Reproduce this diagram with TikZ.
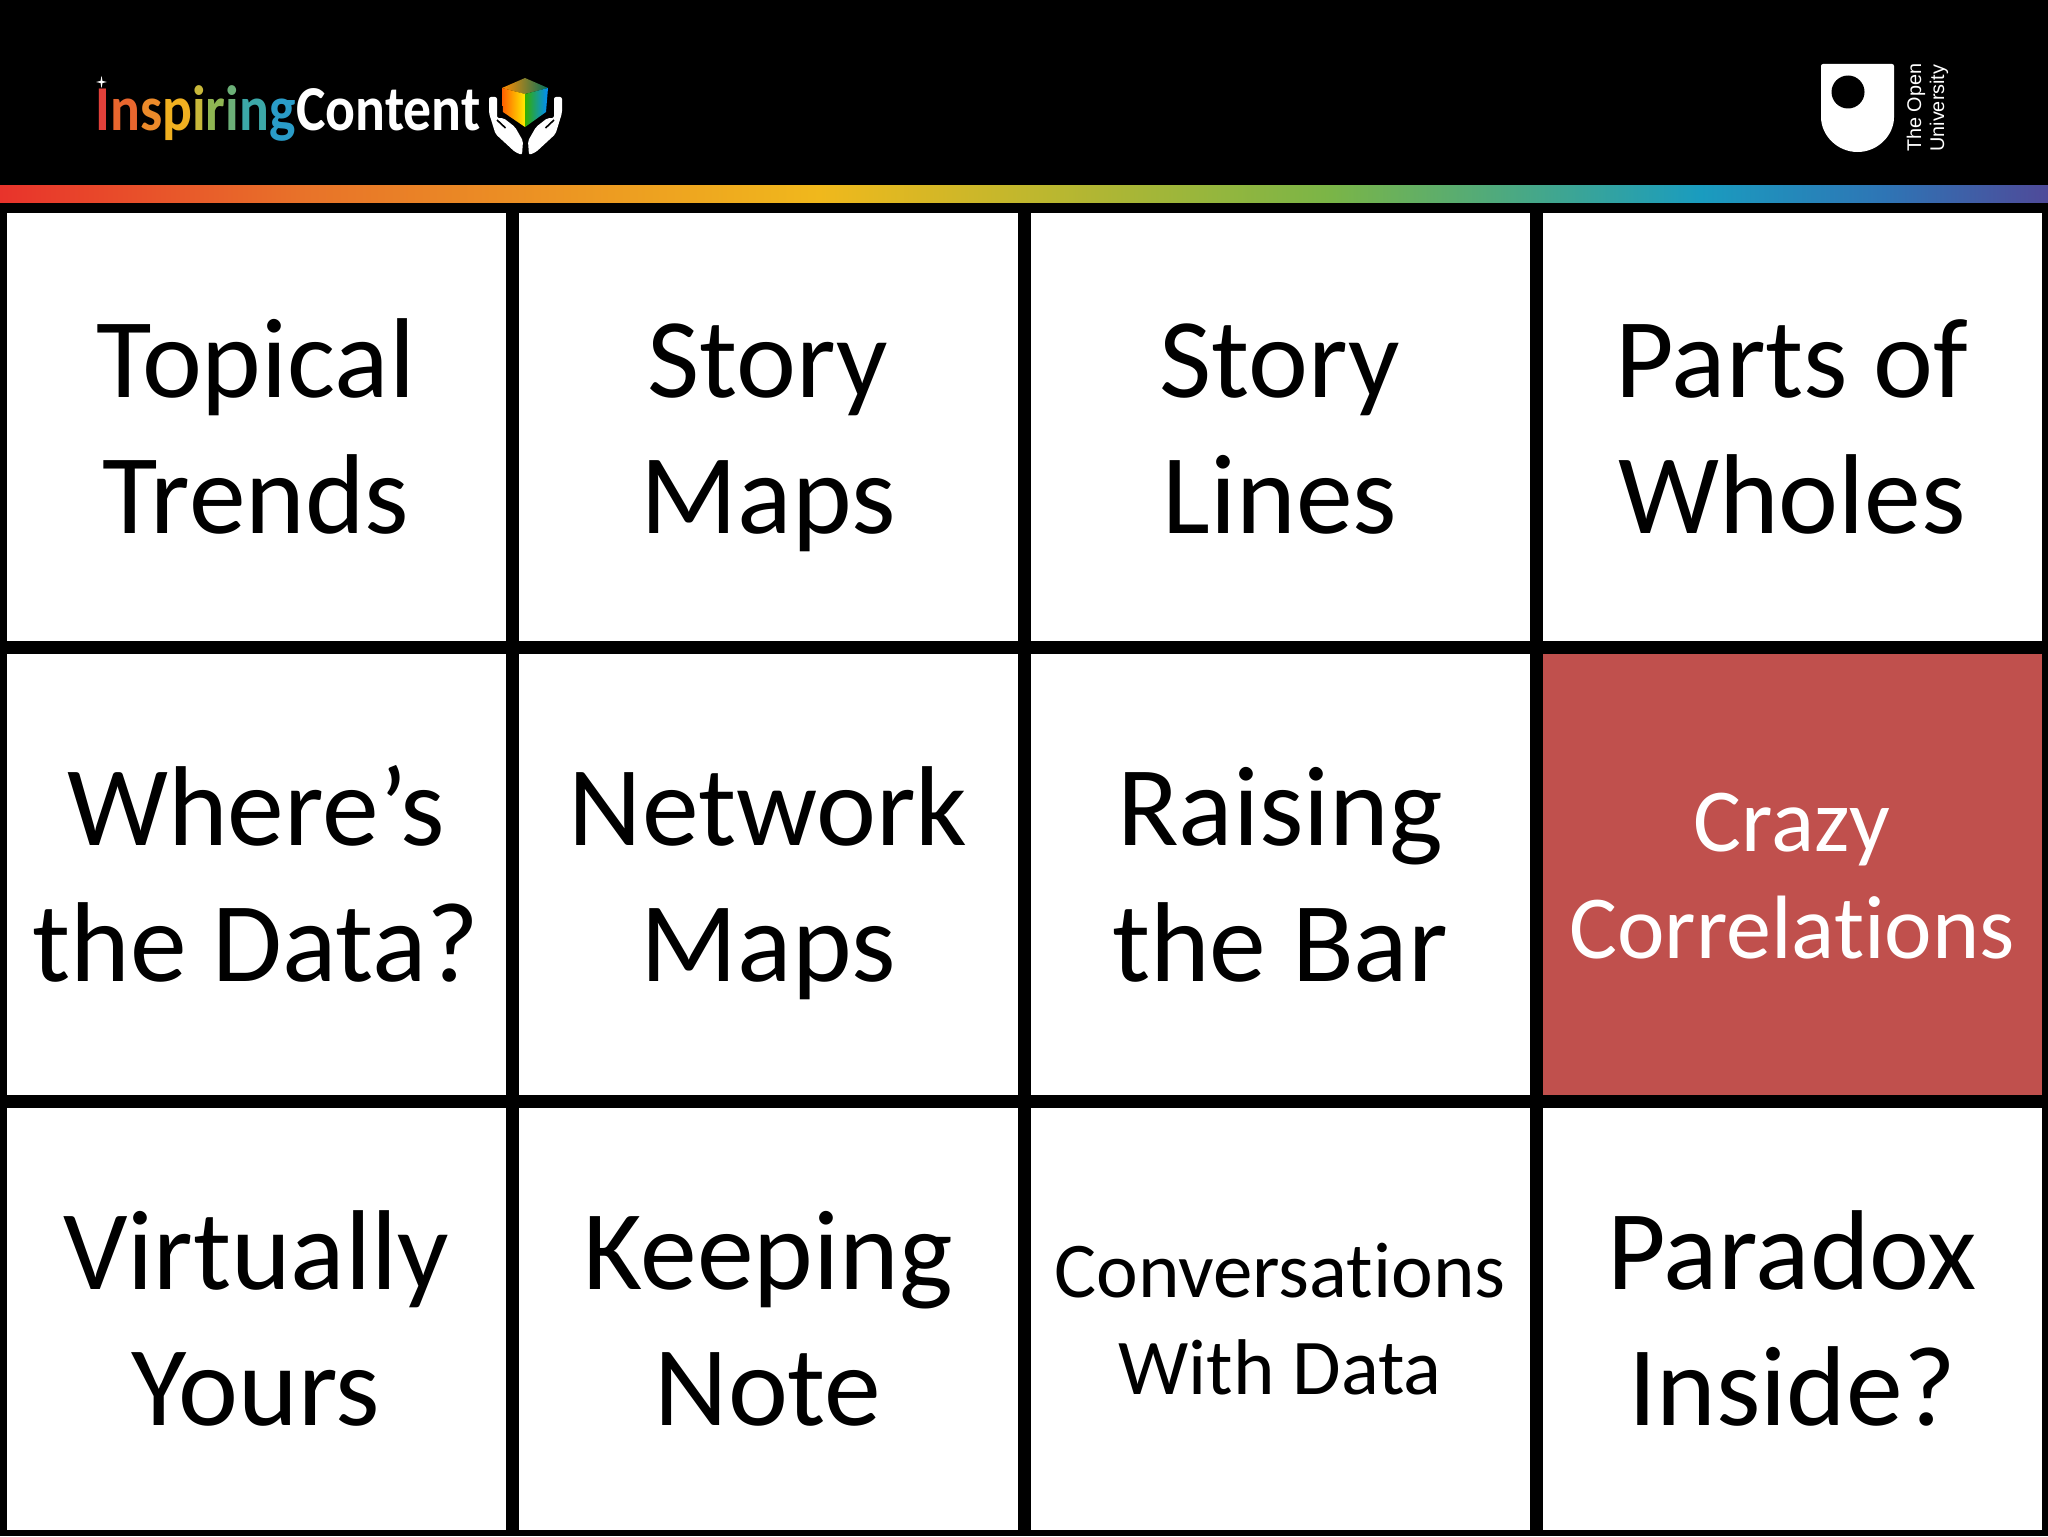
\documentclass[tikz,border=0pt]{standalone}
\usepackage{fontspec}
\setmainfont[Ligatures=NoCommon]{Carlito}
\newfontfamily\ousans{Liberation Sans}
\newfontfamily\logofont[FakeStretch=0.87]{Carlito}
\usepackage{tikz}
\usetikzlibrary{positioning}

\definecolor{cellred}{HTML}{C0504D}
\definecolor{bar red}{HTML}{E8332B}
\definecolor{bar orange}{HTML}{E87329}
\definecolor{bar yellow}{HTML}{F0B81C}
\definecolor{bar green}{HTML}{7AB547}
\definecolor{bar teal}{HTML}{1A9CBF}
\definecolor{bar blue}{HTML}{2E75B5}
\definecolor{bar purple}{HTML}{4F4A99}

\begin{document}
\begin{tikzpicture}[x=0.5pt,y=-0.5pt,node distance=6.5pt,
  cell/.style={fill=white,inner sep=0pt,outer sep=0pt,align=center,minimum width=249.5pt,text=black,
    text height=107.1pt,text depth=0pt,font=\fontsize{56.8}{68}\selectfont},
  top row/.style={cell,minimum height=213.8pt},
  mid row/.style={cell,minimum height=220.5pt},
  low row/.style={cell,minimum height=211pt},
  small text/.style={text height=84pt,font=\fontsize{45}{53.5}\selectfont},
  tiny text/.style={text height=75.5pt,font=\fontsize{39.5}{48.5}\selectfont},
  logo/.style={inner sep=0pt,anchor=base west,font=\logofont\bfseries\fontsize{32}{32}\selectfont},
  ou text/.style={inner sep=0pt,rotate=90,anchor=base west,text=white,font=\ousans\fontsize{9.9}{12}\selectfont}]

  \useasboundingbox (0,0) rectangle (2048,1536);
  \fill[black] (0,0) rectangle (2048,1536);
  \foreach \xa/\xb/\ca/\cb in {0/307/bar red/bar orange,307/819/bar orange/bar yellow,819/1331/bar yellow/bar green,
    1331/1700/bar green/bar teal,1700/1884/bar teal/bar blue,1884/2048/bar blue/bar purple}
    \shade[left color=\ca,right color=\cb] (\xa,185) rectangle (\xb,202);

  % first row
  \node[top row,anchor=north west] (topical) at (6.5,213) {Topical\\Trends};
  \node[top row,right=of topical]  (storymaps) {Story\\Maps};
  \node[top row,right=of storymaps] (storylines) {Story\\Lines};
  \node[top row,right=of storylines] (parts) {Parts of\\Wholes};

  \node[mid row,below=of topical] (where) {Where’s\\the Data?};
  \node[mid row,right=of where]   (network) {Network\\Maps};
  \node[mid row,right=of network] (raising) {Raising\\the Bar};
  \node[mid row,right=of raising,fill=cellred,text=white,small text] (crazy) {Crazy\\Correlations};

  \node[low row,below=of where]   (virtually) {Virtually\\Yours};
  \node[low row,right=of virtually] (keeping) {Keeping\\Note};
  \node[low row,right=of keeping,tiny text] (conversations) {Conversations\\With Data};
  \node[low row,right=of conversations] (paradox) {Paradox\\Inside?};

  % logo on the left
  \node[logo] (inspiring) at (95,131) {\textcolor[HTML]{E2403A}{I}\textcolor[HTML]{E8662E}{n}\textcolor[HTML]{EC8A2A}{s}\textcolor[HTML]{F0B020}{p}\textcolor[HTML]{C8B83A}{i}\textcolor[HTML]{8FB652}{r}\textcolor[HTML]{6CB078}{i}\textcolor[HTML]{3CA8A8}{n}\textcolor[HTML]{2A9CC8}{g}};
  \node[logo,text=white] (content) at (inspiring.base east) {Content};
  \fill[white] (101.5,76) -- (102.5,81) -- (107,82) -- (102.5,83) -- (101.5,88) -- (100.5,83) -- (96,82) -- (100.5,81) -- cycle;

  \shade[left color=orange!90!yellow,right color=green!55!blue!80!black] (525,78) -- (502,88) -- (525,94) -- (548,88) -- cycle;
  \shade[left color=red!25!orange,right color=yellow!85!orange] (502,88) -- (525,94) -- (525,127) -- (503,112) -- cycle;
  \shade[left color=green!60!black!80!yellow,right color=cyan!55!blue] (548,88) -- (525,94) -- (525,127) -- (546,112) -- cycle;
  \foreach \side in {1,-1} {
    \begin{scope}[shift={(525.5,0)},xscale=\side]
      \fill[white,rounded corners=1pt] (-36.5,97) -- (-28.5,97) -- (-28.5,118) -- (-22,118) -- (-10.5,127) -- (-2.5,141) -- (-3.5,155) -- (-10.5,152) -- (-30,134) -- (-36.5,113) -- cycle;
      \draw[black,line width=0.8pt] (-28.5,120) -- (-20,128);
    \end{scope}
  }

  % shield on the right
  \fill[white,rounded corners=1pt] (1821,64) -- (1894,64) -- (1894,115) arc[start angle=0,end angle=180,x radius=36.5,y radius=37] -- cycle;
  \fill[black] (1848,92) circle[radius=16.5];
  \node[ou text] (ouone) at (1921,152) {The Open};
  \node[ou text] (outwo) at (1944,152) {University};
\end{tikzpicture}
\end{document}
